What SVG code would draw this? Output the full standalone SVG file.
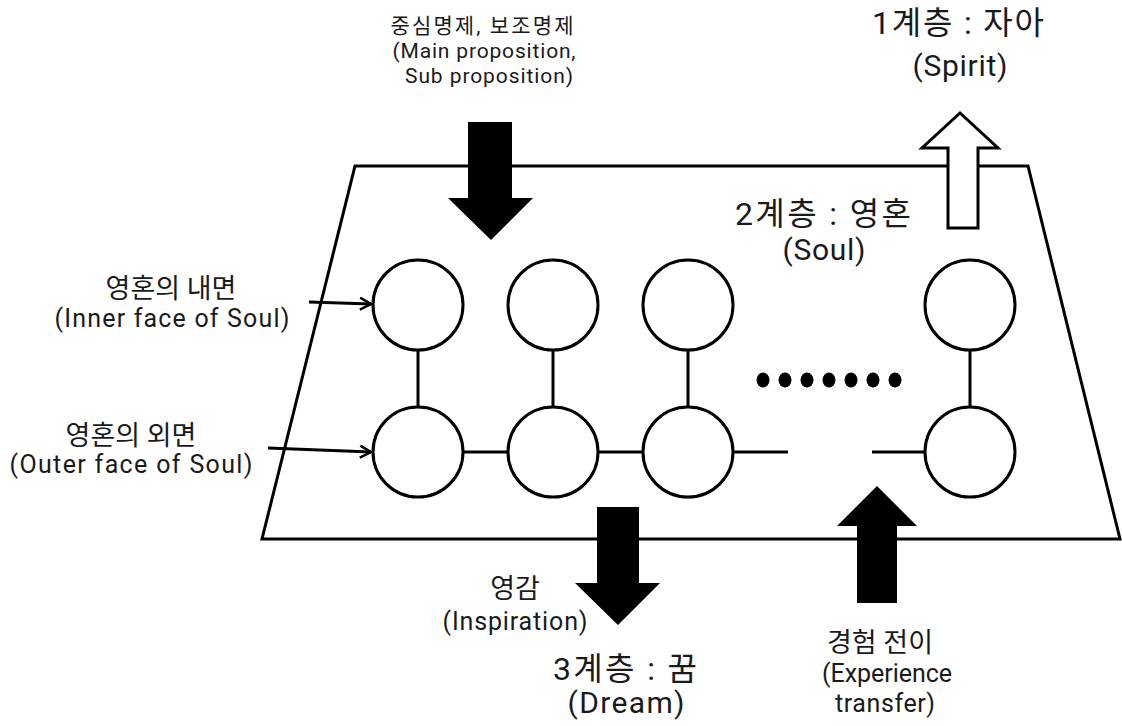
<svg xmlns="http://www.w3.org/2000/svg" width="1122" height="726" viewBox="0 0 1122 726">
  <defs>
    <style>
      .frame { fill: none; stroke: #000; stroke-width: 3; stroke-linejoin: miter; }
      .node { fill: #fff; stroke: #000; stroke-width: 3; }
      .link { stroke: #000; stroke-width: 3; fill: none; }
      .solid { fill: #000; stroke: none; }
      .hollow { fill: #fff; stroke: #000; stroke-width: 3; stroke-linejoin: miter; }
      .dot { fill: #000; }
      text { font-family: Roboto, "Noto Sans CJK KR", sans-serif; fill: #1a1a1a; text-anchor: middle; }
      .big { font-size: 30px; }
      .mid { font-size: 25px; }
      .small { font-size: 21px; }
      .big-ko { font-size: 32px; }
      .mid-ko { font-size: 27px; }
      .small-ko { font-size: 21px; }
    </style>
    <marker id="open" viewBox="0 0 14 14" refX="12" refY="7" markerWidth="14" markerHeight="14" markerUnits="userSpaceOnUse" orient="auto">
      <path d="M1,1 L12,7 L1,13" fill="none" stroke="#000" stroke-width="2.5"/>
    </marker>
  </defs>

  <rect width="1122" height="726" fill="#fff"/>

  <!-- soul layer frame -->
  <polygon id="layer2-frame" class="frame" points="355,166 1028,166 1120,539 262,539"/>

  <!-- connectors between the faces of the soul -->
  <g id="connectors">
    <line class="link" x1="418" y1="350" x2="418" y2="407"/>
    <line class="link" x1="553" y1="350" x2="553" y2="407"/>
    <line class="link" x1="688" y1="350" x2="688" y2="407"/>
    <line class="link" x1="970" y1="350" x2="970" y2="407"/>
    <line class="link" x1="463" y1="452" x2="508" y2="452"/>
    <line class="link" x1="598" y1="452" x2="643" y2="452"/>
    <line class="link" x1="733" y1="452" x2="788" y2="452"/>
    <line class="link" x1="872" y1="452" x2="925" y2="452"/>
    <line class="link" x1="309" y1="302" x2="371" y2="304" marker-end="url(#open)"/>
    <line class="link" x1="268" y1="448" x2="371" y2="452" marker-end="url(#open)"/>
  </g>

  <!-- inner faces -->
  <g id="inner-1"><circle class="node" cx="418" cy="305" r="45"/></g>
  <g id="inner-2"><circle class="node" cx="553" cy="305" r="45"/></g>
  <g id="inner-3"><circle class="node" cx="688" cy="305" r="45"/></g>
  <g id="inner-n"><circle class="node" cx="970" cy="305" r="45"/></g>

  <!-- outer faces -->
  <g id="outer-1"><circle class="node" cx="418" cy="452" r="45"/></g>
  <g id="outer-2"><circle class="node" cx="553" cy="452" r="45"/></g>
  <g id="outer-3"><circle class="node" cx="688" cy="452" r="45"/></g>
  <g id="outer-n"><circle class="node" cx="970" cy="452" r="45"/></g>

  <!-- ellipsis -->
  <g id="ellipsis">
    <ellipse class="dot" cx="763" cy="380" rx="6.5" ry="7.5"/>
    <ellipse class="dot" cx="785" cy="380" rx="6.5" ry="7.5"/>
    <ellipse class="dot" cx="807" cy="380" rx="6.5" ry="7.5"/>
    <ellipse class="dot" cx="829" cy="380" rx="6.5" ry="7.5"/>
    <ellipse class="dot" cx="851" cy="380" rx="6.5" ry="7.5"/>
    <ellipse class="dot" cx="873" cy="380" rx="6.5" ry="7.5"/>
    <ellipse class="dot" cx="895" cy="380" rx="6.5" ry="7.5"/>
  </g>

  <!-- propositions flowing in -->
  <g id="arrow-proposition">
    <polygon class="solid" points="468,122 512,122 512,198 533,198 491,240 448,198 468,198"/>
  </g>

  <!-- rise to the spirit layer -->
  <g id="arrow-spirit">
    <polygon class="hollow" points="948,228 978,228 978,148 998,148 960,113 922,148 948,148"/>
  </g>

  <!-- inspiration down to the dream layer -->
  <g id="arrow-inspiration">
    <polygon class="solid" points="597,507 639,507 639,583 660,583 618,625 575,583 597,583"/>
  </g>

  <!-- experience transfer up -->
  <g id="arrow-experience">
    <polygon class="solid" points="857,603 897,603 897,526 917,526 877,486 837,526 857,526"/>
  </g>

  <!-- labels -->
  <g id="label-proposition">
    <text class="small-ko" x="482" y="33" textLength="183">중심명제, 보조명제</text>
    <text class="small" x="484" y="58" textLength="183">(Main proposition,</text>
    <text class="small" x="489" y="83" textLength="168">Sub proposition)</text>
  </g>
  <g id="label-spirit">
    <text class="big-ko" x="958" y="34" textLength="172">1계층 : 자아</text>
    <text class="big" x="960" y="76" textLength="95">(Spirit)</text>
  </g>
  <g id="label-soul">
    <text class="big-ko" x="823" y="225" textLength="176">2계층 : 영혼</text>
    <text class="big" x="824" y="260" textLength="83">(Soul)</text>
  </g>
  <g id="label-inner">
    <text class="mid-ko" x="171" y="298">영혼의 내면</text>
    <text class="mid" x="172" y="327" textLength="235">(Inner face  of Soul)</text>
  </g>
  <g id="label-outer">
    <text class="mid-ko" x="131" y="445">영혼의 외면</text>
    <text class="mid" x="131" y="473" textLength="243">(Outer face of Soul)</text>
  </g>
  <g id="label-inspiration">
    <text class="mid-ko" x="515" y="598">영감</text>
    <text class="mid" x="515" y="630" textLength="145">(Inspiration)</text>
  </g>
  <g id="label-dream">
    <text class="big-ko" x="625" y="680" textLength="144">3계층 : 꿈</text>
    <text class="big" x="626" y="713" textLength="117">(Dream)</text>
  </g>
  <g id="label-experience">
    <text class="mid-ko" x="880" y="652">경험 전이</text>
    <text class="mid" x="887" y="682" textLength="130">(Experience</text>
    <text class="mid" x="885" y="712" textLength="100">transfer)</text>
  </g>
</svg>
